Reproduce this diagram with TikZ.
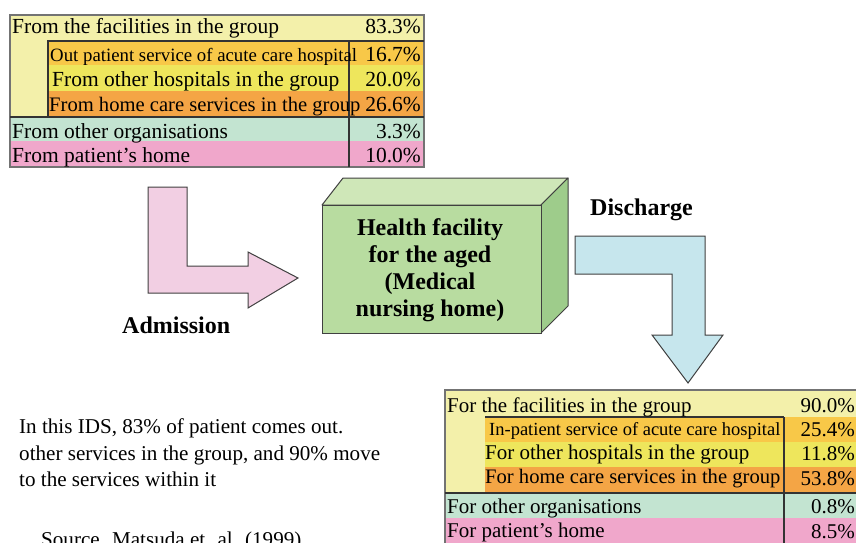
\documentclass[tikz,border=0pt]{standalone}
\usepackage{fontspec}
\setmainfont{Liberation Serif}
\begin{document}
\begin{tikzpicture}[x=1pt,y=-1pt,
  edge/.style={draw=black!80,line width=1.1pt},
  lbl/.style={inner sep=0pt,anchor=base west},
  pct/.style={inner sep=0pt,anchor=base east},
  bigA/.style={font=\fontsize{21.5}{24}\selectfont},
  big/.style={font=\fontsize{21}{24}\selectfont},
  small/.style={font=\fontsize{18.8}{22}\selectfont},
  notetext/.style={font=\fontsize{21.1}{26}\selectfont},
  bold/.style={font=\fontsize{24}{28}\selectfont\bfseries}]
\definecolor{paleY}{HTML}{F3F0AA}
\definecolor{goldY}{HTML}{F8C848}
\definecolor{midY}{HTML}{EEE65C}
\definecolor{orng}{HTML}{F4A545}
\definecolor{teal}{HTML}{C3E4D1}
\definecolor{pinkR}{HTML}{F0A7CB}
\definecolor{pinkA}{HTML}{F2CFE3}
\definecolor{blueA}{HTML}{C6E6ED}
\definecolor{gFront}{HTML}{B8DCA0}
\definecolor{gTop}{HTML}{CFE7B8}
\definecolor{gSide}{HTML}{9ECC8B}
\useasboundingbox (0,0) rectangle (856,543);

% ---------- admissions table ----------
\fill[paleY] (10,15) rectangle (424,41);
\fill[paleY] (10,41) rectangle (48,117);
\fill[goldY] (48,41) rectangle (424,65);
\fill[midY] (48,65) rectangle (424,91);
\fill[orng] (48,91) rectangle (424,117);
\fill[teal] (10,117) rectangle (424,141);
\fill[pinkR] (10,141) rectangle (424,167);
\draw[edge,draw=black!55] (10,15) rectangle (424,167);
\draw[edge] (48,117) -- (48,41) -- (424,41);
\draw[edge] (10,117) -- (424,117);
\draw[edge] (349,41) -- (349,167);

\node[lbl,bigA] (a1) at (12,34) {From the facilities in the group};
\node[pct,bigA] (a1p) at (421,34) {83.3\%};
\node[lbl,small] (a2) at (50,62) {Out patient service of acute care hospital};
\node[pct,bigA] (a2p) at (421,62) {16.7\%};
\node[lbl,bigA] (a3) at (52,86) {From other hospitals in the group};
\node[pct,bigA] (a3p) at (421,86) {20.0\%};
\node[lbl,big,font=\fontsize{20.6}{24}\selectfont] (a4) at (49,111) {From home care services in the group};
\node[pct,bigA] (a4p) at (421,111) {26.6\%};
\node[lbl,bigA] (a5) at (12,138) {From other organisations};
\node[pct,bigA] (a5p) at (421,138) {3.3\%};
\node[lbl,bigA] (a6) at (12,162) {From patient’s home};
\node[pct,bigA] (a6p) at (421,162) {10.0\%};

% ---------- admission arrow ----------
\draw[fill=pinkA,draw=black!75,line width=1pt,line join=miter]
  (148,187) -- (187,187) -- (187,266) -- (248,266) -- (248,252)
  -- (298,278) -- (248,308) -- (248,293) -- (148,293) -- cycle;
\node[lbl,bold] (adm) at (122,333) {Admission};

% ---------- facility block ----------
\draw[fill=gTop,draw=black!75,line width=1pt,line join=round]
  (322,205) -- (343,178) -- (568,178) -- (541,205) -- cycle;
\draw[fill=gSide,draw=black!75,line width=1pt,line join=round]
  (541,205) -- (568,178) -- (568,306) -- (541,333) -- cycle;
\draw[fill=gFront,draw=black!75,line width=1pt]
  (322,205) rectangle (541,333);
\node[inner sep=0pt,anchor=base,bold] (f1) at (430,235) {Health facility};
\node[inner sep=0pt,anchor=base,bold] (f2) at (430,262) {for the aged};
\node[inner sep=0pt,anchor=base,bold] (f3) at (430,289) {(Medical};
\node[inner sep=0pt,anchor=base,bold] (f4) at (430,316) {nursing home)};

% ---------- discharge arrow ----------
\node[lbl,bold] (dis) at (590,215) {Discharge};
\draw[fill=blueA,draw=black!75,line width=1pt,line join=miter]
  (575,236) -- (705,236) -- (705,335) -- (723,335) -- (688,383)
  -- (652,335) -- (672,335) -- (672,274) -- (575,274) -- cycle;

% ---------- discharge table ----------
\fill[paleY] (445,390) rectangle (860,417);
\fill[paleY] (445,417) rectangle (485,493);
\fill[goldY] (485,417) rectangle (860,442);
\fill[midY] (485,442) rectangle (860,467);
\fill[orng] (485,467) rectangle (860,493);
\fill[teal] (445,493) rectangle (860,518);
\fill[pinkR] (445,518) rectangle (860,548);
\draw[edge,draw=black!55] (445,548) -- (445,390) -- (860,390);
\draw[edge] (485,417) -- (784,417);
\draw[edge] (784,417) -- (784,548);
\draw[edge] (445,493) -- (860,493);

\node[lbl,big] (b1) at (447,412) {For the facilities in the group};
\node[pct,big] (b1p) at (855,412) {90.0\%};
\node[lbl,small,font=\fontsize{18.5}{22}\selectfont] (b2) at (489,435) {In-patient service of acute care hospital};
\node[pct,big] (b2p) at (855,436) {25.4\%};
\node[lbl,big] (b3) at (485,459) {For other hospitals in the group};
\node[pct,big] (b3p) at (855,460) {11.8\%};
\node[lbl,big,font=\fontsize{20.6}{24}\selectfont] (b4) at (485,483) {For home care services in the group};
\node[pct,big] (b4p) at (855,485) {53.8\%};
\node[lbl,big] (b5) at (447,513) {For other organisations};
\node[pct,big] (b5p) at (855,513) {0.8\%};
\node[lbl,big] (b6) at (447,537) {For patient’s home};
\node[pct,big] (b6p) at (855,538) {8.5\%};

% ---------- note and source ----------
\node[lbl,notetext] (n1) at (19,433) {In this IDS, 83\% of patient comes out.};
\node[lbl,notetext] (n2) at (19,460) {other services in the group, and 90\% move};
\node[lbl,notetext] (n3) at (19,486) {to the services within it};
\node[lbl,notetext] (src) at (41,546) {Source. Matsuda et. al. (1999)};
\end{tikzpicture}
\end{document}
